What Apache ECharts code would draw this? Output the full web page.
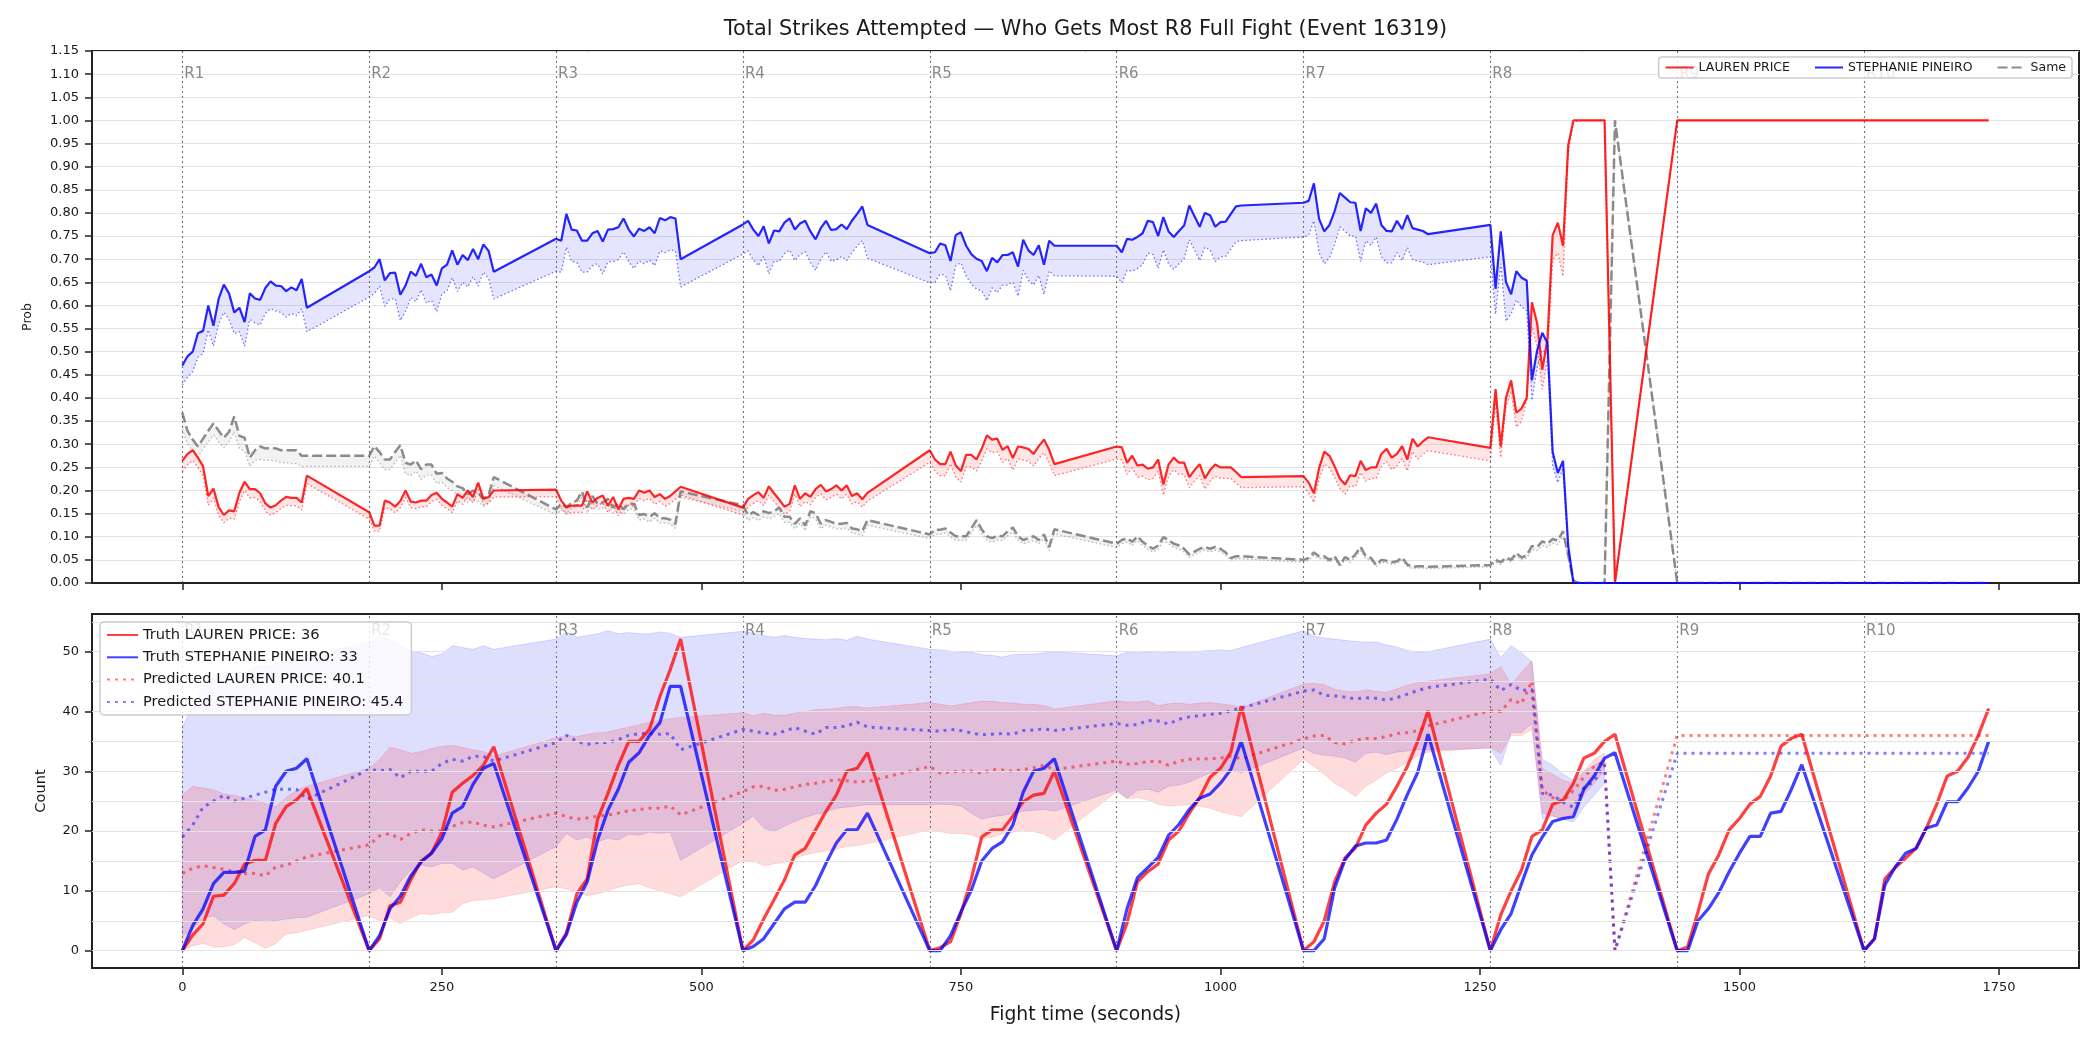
<!DOCTYPE html>
<html>
<head>
<meta charset="utf-8">
<title>Total Strikes Attempted - Who Gets Most R8 Full Fight</title>
<script src="https://cdn.jsdelivr.net/npm/echarts@6.0.0/dist/echarts.min.js"></script>
<style>
  html, body { margin: 0; padding: 0; background: #fff; }
  #chart { width: 2100px; height: 1050px; }
</style>
</head>
<body>
<div id="chart"></div>
<script>
// 图表标题与名称
const TITLE = 'Total Strikes Attempted \u2014 Who Gets Most R8 Full Fight (Event 16319)';
const NAME_LP = 'LAUREN PRICE';
const NAME_SP = 'STEPHANIE PINEIRO';
const NAME_SAME = 'Same';
const LEGEND_BOTTOM = [
  'Truth LAUREN PRICE: 36',
  'Truth STEPHANIE PINEIRO: 33',
  'Predicted LAUREN PRICE: 40.1',
  'Predicted STEPHANIE PINEIRO: 45.4'
];

// 回合
const ROUND_STARTS = [0, 180, 360, 540, 720, 900, 1080, 1260, 1440, 1620];
const ROUND_NAMES = ['R1', 'R2', 'R3', 'R4', 'R5', 'R6', 'R7', 'R8', 'R9', 'R10'];

// 刻度
const X_TICKS = [0, 250, 500, 750, 1000, 1250, 1500, 1750];
const Y2_TICKS = [0, 10, 20, 30, 40, 50];
const Y2_GRID = [0, 5, 10, 15, 20, 25, 30, 35, 40, 45, 50, 55];

// ---- 上图：概率 (每回合 0..120 秒，步长 5 秒) ----
const TOP_STEPS = [0, 5, 10, 15, 20, 25, 30, 35, 40, 45, 50, 55, 60, 65, 70, 75, 80, 85, 90, 95, 100, 105, 110, 115, 120];
const TOP_R8_STEPS = [0, 5, 10, 15, 20, 25, 30, 35, 40, 45, 50, 55, 60, 65, 70, 75, 80];
const TOP_TAIL_T = [1345, 1350, 1355, 1360, 1365, 1370, 1380, 1440, 1500, 1560, 1620, 1680, 1740];
const TOP_TAIL_LP = [1, 1, 1, 1, 1, 1, 0, 1, 1, 1, 1, 1, 1];
const TOP_TAIL_SP = [0, 0, 0, 0, 0, 0, 0, 0, 0, 0, 0, 0, 0];
const TOP_TAIL_SAME = [0, 0, 0, 0, 0, 0, 1, 0, 0, 0, 0, 0, 0];

const TOP_LP = [
  [0.264,0.279,0.287,0.271,0.252,0.188,0.204,0.164,0.147,0.157,0.155,0.195,0.219,0.203,0.203,0.194,0.172,0.163,0.168,0.178,0.186,0.184,0.184,0.174,0.232],
  [0.153,0.124,0.124,0.178,0.174,0.165,0.177,0.2,0.176,0.174,0.178,0.178,0.19,0.195,0.182,0.174,0.165,0.192,0.184,0.2,0.186,0.217,0.182,0.186,0.2],
  [0.202,0.178,0.164,0.167,0.168,0.167,0.198,0.174,0.184,0.189,0.167,0.186,0.159,0.182,0.184,0.182,0.2,0.195,0.2,0.186,0.192,0.182,0.188,0.198,0.208],
  [0.163,0.182,0.19,0.196,0.184,0.209,0.194,0.18,0.165,0.171,0.211,0.182,0.194,0.186,0.203,0.212,0.198,0.203,0.211,0.2,0.211,0.188,0.194,0.181,0.195],
  [0.287,0.267,0.257,0.257,0.284,0.254,0.242,0.277,0.277,0.267,0.29,0.319,0.31,0.312,0.288,0.296,0.27,0.295,0.293,0.29,0.279,0.296,0.31,0.288,0.257],
  [0.295,0.293,0.26,0.275,0.254,0.256,0.247,0.25,0.267,0.213,0.256,0.271,0.26,0.26,0.229,0.244,0.257,0.226,0.244,0.256,0.25,0.25,0.25,0.24,0.229],
  [0.231,0.217,0.194,0.248,0.284,0.275,0.252,0.226,0.213,0.233,0.231,0.264,0.244,0.25,0.25,0.279,0.29,0.271,0.279,0.296,0.267,0.312,0.295,0.306,0.315],
  [0.292,0.419,0.295,0.4,0.438,0.368,0.377,0.4,0.607,0.562,0.461,0.527,0.752,0.779,0.729,0.947,1.0]
];
const TOP_LP_LO = [
  [0.241,0.256,0.265,0.25,0.232,0.168,0.184,0.146,0.13,0.14,0.138,0.176,0.2,0.184,0.185,0.176,0.155,0.147,0.152,0.161,0.168,0.167,0.167,0.158,0.215],
  [0.138,0.112,0.112,0.163,0.16,0.152,0.163,0.185,0.163,0.161,0.165,0.165,0.176,0.181,0.168,0.161,0.152,0.178,0.17,0.186,0.173,0.202,0.169,0.172,0.186],
  [0.186,0.162,0.149,0.152,0.153,0.152,0.181,0.158,0.168,0.173,0.152,0.17,0.145,0.166,0.168,0.166,0.183,0.178,0.183,0.17,0.176,0.166,0.172,0.181,0.19],
  [0.147,0.165,0.172,0.178,0.167,0.19,0.176,0.163,0.149,0.155,0.192,0.165,0.176,0.169,0.185,0.193,0.18,0.185,0.192,0.182,0.192,0.171,0.176,0.164,0.177],
  [0.261,0.242,0.232,0.232,0.258,0.229,0.218,0.251,0.251,0.242,0.263,0.29,0.282,0.284,0.261,0.269,0.244,0.268,0.266,0.263,0.253,0.269,0.282,0.261,0.232],
  [0.268,0.266,0.235,0.249,0.229,0.231,0.223,0.226,0.242,0.19,0.231,0.245,0.235,0.235,0.206,0.22,0.232,0.203,0.22,0.231,0.226,0.226,0.226,0.216,0.206],
  [0.208,0.195,0.174,0.224,0.257,0.249,0.228,0.204,0.192,0.21,0.208,0.239,0.22,0.226,0.226,0.253,0.263,0.245,0.253,0.269,0.242,0.284,0.268,0.278,0.286],
  [0.264,0.39,0.271,0.38,0.415,0.337,0.349,0.395,0.554,0.512,0.419,0.484,0.698,0.713,0.663,0.93,0.995]
];
const TOP_SP = [
  [0.47,0.49,0.5,0.54,0.545,0.6,0.556,0.614,0.645,0.626,0.585,0.595,0.564,0.626,0.615,0.612,0.638,0.652,0.643,0.642,0.631,0.639,0.633,0.657,0.595],
  [0.674,0.682,0.7,0.654,0.67,0.671,0.623,0.643,0.673,0.664,0.69,0.661,0.667,0.643,0.68,0.688,0.719,0.688,0.709,0.698,0.722,0.7,0.732,0.718,0.673],
  [0.744,0.74,0.798,0.764,0.762,0.74,0.74,0.756,0.761,0.738,0.764,0.765,0.769,0.788,0.764,0.749,0.766,0.761,0.769,0.756,0.789,0.784,0.791,0.788,0.7],
  [0.775,0.783,0.764,0.75,0.771,0.734,0.762,0.76,0.779,0.788,0.764,0.777,0.783,0.76,0.743,0.767,0.783,0.763,0.765,0.775,0.765,0.783,0.798,0.814,0.774],
  [0.713,0.715,0.734,0.73,0.696,0.752,0.758,0.729,0.711,0.701,0.696,0.674,0.703,0.693,0.709,0.709,0.715,0.684,0.742,0.719,0.709,0.73,0.688,0.74,0.729],
  [0.729,0.715,0.744,0.742,0.748,0.756,0.783,0.78,0.75,0.791,0.76,0.748,0.761,0.773,0.816,0.793,0.77,0.8,0.795,0.77,0.78,0.781,0.798,0.814,0.816],
  [0.822,0.826,0.864,0.787,0.76,0.774,0.804,0.843,0.833,0.823,0.822,0.761,0.81,0.8,0.82,0.774,0.761,0.76,0.783,0.765,0.795,0.767,0.764,0.761,0.754],
  [0.774,0.636,0.76,0.651,0.624,0.674,0.66,0.654,0.438,0.502,0.541,0.519,0.283,0.238,0.264,0.08,0.0]
];
const TOP_SP_LO = [
  [0.428,0.445,0.457,0.488,0.496,0.547,0.512,0.56,0.585,0.57,0.539,0.543,0.512,0.57,0.562,0.558,0.583,0.593,0.588,0.585,0.575,0.583,0.578,0.593,0.543],
  [0.618,0.626,0.642,0.598,0.614,0.615,0.567,0.587,0.617,0.608,0.634,0.605,0.611,0.587,0.624,0.632,0.66,0.63,0.65,0.64,0.662,0.642,0.672,0.658,0.614],
  [0.674,0.672,0.726,0.695,0.693,0.672,0.672,0.686,0.69,0.668,0.694,0.695,0.699,0.716,0.694,0.68,0.696,0.69,0.698,0.686,0.718,0.714,0.72,0.718,0.64],
  [0.711,0.718,0.698,0.686,0.706,0.668,0.696,0.695,0.712,0.72,0.697,0.71,0.716,0.693,0.676,0.7,0.716,0.695,0.698,0.706,0.697,0.714,0.728,0.74,0.702],
  [0.649,0.65,0.668,0.665,0.632,0.686,0.692,0.664,0.646,0.636,0.632,0.61,0.638,0.628,0.644,0.644,0.65,0.62,0.676,0.654,0.644,0.665,0.624,0.675,0.664],
  [0.663,0.649,0.676,0.674,0.68,0.688,0.713,0.71,0.68,0.72,0.69,0.678,0.69,0.701,0.742,0.72,0.697,0.726,0.72,0.695,0.705,0.706,0.722,0.738,0.74],
  [0.748,0.752,0.783,0.714,0.69,0.703,0.732,0.77,0.76,0.75,0.75,0.695,0.74,0.73,0.748,0.705,0.692,0.692,0.714,0.697,0.725,0.699,0.696,0.694,0.688],
  [0.705,0.581,0.69,0.566,0.582,0.612,0.597,0.589,0.395,0.465,0.504,0.496,0.252,0.217,0.248,0.07,0.0]
];
const TOP_SAME = [
  [0.368,0.329,0.31,0.295,0.312,0.329,0.345,0.329,0.314,0.327,0.36,0.318,0.314,0.271,0.287,0.295,0.291,0.292,0.291,0.287,0.287,0.287,0.287,0.275,0.275],
  [0.275,0.296,0.283,0.267,0.267,0.283,0.298,0.26,0.256,0.265,0.246,0.256,0.256,0.236,0.238,0.226,0.219,0.209,0.205,0.192,0.2,0.194,0.182,0.19,0.229],
  [0.159,0.171,0.163,0.174,0.178,0.198,0.163,0.188,0.171,0.174,0.182,0.163,0.171,0.159,0.172,0.171,0.147,0.149,0.143,0.151,0.14,0.14,0.137,0.128,0.198],
  [0.168,0.147,0.153,0.147,0.155,0.151,0.155,0.163,0.143,0.143,0.128,0.14,0.124,0.155,0.151,0.128,0.136,0.132,0.128,0.128,0.13,0.118,0.116,0.112,0.136],
  [0.105,0.115,0.115,0.118,0.109,0.101,0.101,0.101,0.118,0.136,0.116,0.101,0.097,0.102,0.101,0.112,0.12,0.101,0.093,0.097,0.101,0.093,0.105,0.078,0.116],
  [0.085,0.093,0.097,0.089,0.101,0.089,0.081,0.074,0.081,0.099,0.093,0.085,0.081,0.074,0.062,0.068,0.074,0.078,0.074,0.078,0.074,0.066,0.054,0.058,0.058],
  [0.05,0.054,0.066,0.058,0.058,0.05,0.058,0.039,0.056,0.05,0.062,0.078,0.058,0.054,0.039,0.05,0.048,0.045,0.047,0.055,0.04,0.035,0.036,0.036,0.035],
  [0.039,0.05,0.045,0.055,0.05,0.065,0.055,0.06,0.08,0.078,0.09,0.085,0.095,0.092,0.112,0.06,0.005]
];
const TOP_SAME_LO = [
  [0.333,0.3,0.285,0.272,0.29,0.305,0.32,0.305,0.292,0.305,0.327,0.29,0.285,0.252,0.265,0.267,0.265,0.265,0.264,0.26,0.26,0.258,0.258,0.252,0.252],
  [0.252,0.275,0.26,0.245,0.245,0.26,0.276,0.236,0.232,0.242,0.224,0.233,0.233,0.215,0.218,0.206,0.199,0.19,0.186,0.174,0.182,0.176,0.166,0.173,0.21],
  [0.148,0.158,0.15,0.162,0.166,0.185,0.151,0.175,0.159,0.162,0.17,0.151,0.159,0.148,0.16,0.159,0.136,0.138,0.132,0.14,0.13,0.13,0.127,0.118,0.185],
  [0.155,0.135,0.141,0.135,0.143,0.139,0.143,0.15,0.131,0.131,0.117,0.129,0.113,0.143,0.139,0.117,0.125,0.121,0.117,0.117,0.119,0.108,0.106,0.102,0.125],
  [0.096,0.105,0.105,0.108,0.1,0.092,0.092,0.092,0.108,0.125,0.106,0.092,0.088,0.093,0.092,0.102,0.11,0.092,0.085,0.088,0.092,0.085,0.096,0.07,0.106],
  [0.077,0.085,0.089,0.081,0.092,0.081,0.073,0.067,0.073,0.09,0.085,0.077,0.073,0.067,0.056,0.061,0.067,0.071,0.067,0.071,0.067,0.06,0.049,0.052,0.052],
  [0.045,0.049,0.06,0.052,0.052,0.045,0.052,0.035,0.05,0.045,0.056,0.07,0.052,0.049,0.035,0.045,0.043,0.04,0.042,0.049,0.036,0.031,0.032,0.032,0.031],
  [0.035,0.045,0.04,0.05,0.045,0.058,0.05,0.054,0.072,0.07,0.081,0.077,0.086,0.083,0.1,0.054,0.004]
];

// ---- 下图：计数 (每回合 0..120 秒，步长 10 秒) ----
const BOT_STEPS = [0, 10, 20, 30, 40, 50, 60, 70, 80, 90, 100, 110, 120];
const TRUTH_LP = [
  [0,2.6,4.5,9.1,9.3,11.2,14.5,15.1,15.1,21.3,24.1,25.2,27.1],
  [0,2,7.5,8.1,11.8,15,16.3,19.8,26.5,28,29.3,31,34.1],
  [0,3,9.5,12,22,26.3,31,35,35,37,42.5,47,52.1],
  [0,1.8,5.3,8.5,11.8,16,17.1,20.2,23.3,26,30,30.5,33.1],
  [0,0.5,1.5,6.2,12,19,20.2,20.2,22.5,24.9,26,26.3,30],
  [0,4.6,11.5,13.2,14.5,18.5,20,23,25.6,29,30.5,33.2,40.9],
  [0,1.5,5,11.5,15.5,17.2,21,23,24.5,27.5,30.8,35,40.1],
  [0,6,10,13.5,19.1,20.2,24.5,25.1,28,32.2,33,35,36.2],
  [0,0.6,6.5,12.8,16,20.2,22.1,24.5,25.8,29.2,34.2,35.5,36.2],
  [0,2,12,13.9,15.5,17.1,20.5,24.5,29.2,30,32.3,36,40.5]
];
const TRUTH_SP = [
  [0,4.2,7,11.2,13.1,13.1,13.3,19.1,20.2,27.5,30,30.5,32.1],
  [0,2.5,7,9.1,12.5,14.8,16.3,18.7,23,24.1,27.8,30.5,31.3],
  [0,2.7,8.1,11.5,18.5,23.5,27,31.5,33.1,36,38.1,44.2,44.2],
  [0,0.7,2,4.5,7,8.1,8.1,10.9,14.6,18,20.2,20.2,23],
  [0,0,2.5,6.5,10.1,15,17.1,18.2,21,26.5,30,30.5,32.1],
  [0,7,12.2,13.9,15.6,19.3,21.1,23.6,25.5,26.2,28,30.3,35],
  [0,0,2,10.5,15.2,17.5,18,18,18.5,22,26.1,29.8,36.2],
  [0,3.5,6.2,11.2,16,19,21.6,22.1,22.4,27,29.2,32.2,33.1],
  [0,0,5,7,9.7,13.2,16.3,19.1,19.1,23,23.3,27,31.1],
  [0,2,11,14,16.3,17.1,20.5,21,24.9,24.9,27.2,30,35]
];
const PRED_LP = [
  [12.9,13.8,14.2,13.9,13.6,13.2,12.9,12.9,12.5,14,14.3,15,15.7],
  [17.7,19.2,19.6,18.6,19.6,20.2,20,20,20.8,21.4,21.5,21,20.7],
  [23,22.4,22,22.2,22.5,22.7,23,23.4,23.6,23.8,23.8,24.2,22.7],
  [26.6,27.4,27.5,26.8,27,27.4,27.8,28,28.3,28.6,28.4,28.2,28.3],
  [30.8,29.7,29.9,30,30,29.7,30.3,30.2,30,30.3,30.6,31,30.3],
  [31.7,31.2,31.3,31.6,31.7,31,31.7,32,32.1,32.1,32.2,32.5,32.1],
  [35.4,35.9,36,34.8,34.6,35.2,35.5,35.5,35.8,36.3,36.5,36.8,37.6],
  [40.1,40,42,41.3,45.1,26.8,25.6,25,26.8,29,30.8,31.6,0],
  [36,36,36,36,36,36,36,36,36,36,36,36,36],
  [36,36,36,36,36,36,36,36,36,36,36,36,36]
];
const PRED_SP = [
  [19,21,24,25,26,25,25.5,26,26.5,27,27,27,25.3],
  [30.3,30.1,30.3,28.9,30,30,30,31.3,32,31.7,32.5,32.5,31.7],
  [34.8,36,35,34.5,34.8,34.8,35.3,36,36.3,36.3,36.2,36.3,33.6],
  [37,36.7,36.4,36.2,36.7,37.3,36.7,36.2,37.3,37.3,37.6,38.2,37.4],
  [36.8,36.7,37,36.8,36.4,36.1,36.2,36.3,36.2,36.8,36.9,37.1,36.8],
  [38,37.7,37.8,38.5,38.4,37.9,38.7,39.1,39.3,39.5,39.7,40.1,40.6],
  [43.4,43.6,42.7,42.6,42.4,42.1,42.3,42.2,41.9,42.3,42.9,43.5,44],
  [45.4,43.5,44.5,43.5,43.7,26.3,26,24.8,24,27.2,28.3,31,0],
  [33,33,33,33,33,33,33,33,33,33,33,33,33],
  [33,33,33,33,33,33,33,33,33,33,33,33,33]
];
// 预测区间 (仅 R1..R8)
const BAND_SP_HI = [
  [37.3,41,44,45.5,46,46.5,46.5,47.5,47.5,48,48.5,49,49.3],
  [51.5,52.5,52,51,50.2,49.8,49.2,49.6,51,50.7,50.4,51,50.4],
  [52.1,53.3,52.4,52.7,53,53.5,53,53.2,53,53,53.3,53.1,52.4],
  [53.4,53.1,52.7,52.4,52.7,52.4,52.2,52.1,52,52.2,51.9,52.6,52.1],
  [50.4,50.3,50.1,49.9,49.9,49.5,49.4,49.1,49.5,49.6,49.6,49.8,50],
  [49.3,49.9,49.8,49.9,50.1,49.9,50,50,50.1,50.2,50.3,50.2,50.7],
  [53.5,52.6,52.3,52.1,51.9,51.7,51.6,51.6,51.1,50.8,50.2,49.9,50],
  [52.1,49,51,49.8,48.3,32,31,29.5,28.5,30,31,32,null]
];
const BAND_SP_LO = [
  [2.5,3.5,5.5,5.8,4.5,3.5,4.5,5,4.8,5,5.3,5.5,5.6],
  [9.5,10.5,9,11.5,13.5,14.3,14,14.6,14.6,13.5,14,13,12],
  [17.4,19.6,18.5,19,18.2,18.8,18.5,19.5,19.3,19.8,19.6,19.8,15.1],
  [21.3,22.5,20.5,19.9,20.8,21.6,22.3,22.8,23.2,23.8,24,24.2,24.4],
  [24.4,24.5,24.4,24.2,23,22,22.4,22.6,23,23.3,23.5,23.6,23.3],
  [26.9,25.5,26.8,27,26.5,27.5,27.7,28.2,29,29.7,30,30.3,29.7],
  [33.9,33,32.7,32.5,32.2,31.5,33,33.2,32.8,33.2,33.4,33.6,33.6],
  [33.8,31,36.5,36.5,38,22,22.5,22,21.5,24,26,28,null]
];
const BAND_LP_HI = [
  [26,27.5,27.2,26.9,26.2,26,25.5,25.2,24.6,24.1,25.6,26.8,27.5],
  [30.5,32,34,33.6,33,33.3,33.8,34.2,34.3,34,33.6,33.3,32.5],
  [35.6,36,35.8,36.2,36.4,36.6,37,37.4,37.8,38.2,38.5,38.8,39],
  [39.8,39.3,39.7,39.4,39.4,39.7,40,40.3,40.4,40.5,40.8,40.8,40.6],
  [41.5,41.2,40.9,41.2,41.5,41.7,41.7,41.5,41.4,41.2,41.2,41,40.4],
  [41.8,41.6,41.6,41.8,41,41.3,41.4,41.2,41.4,41.5,41.3,41.1,40.6],
  [44.6,44.7,44.5,43.7,43.4,43.3,43.6,43.4,43.2,43.8,44.4,44.8,45.1],
  [46.3,47.5,44.5,46.5,48.5,30.5,29.5,28.5,28,30,32,33,null]
];
const BAND_LP_LO = [
  [0,0.8,1.2,0.6,0.6,1,2.2,1.3,0.4,1.2,2.8,3,3.4],
  [5.9,5,5.5,4.5,5.5,6.2,6,6.4,6.4,7.8,8.4,8.5,8.7],
  [10.7,10.3,9.8,9.2,9.5,10,10.6,11,11.2,10.5,10,9.5,9],
  [15.1,15,14.2,14.5,14.8,15.5,16,16.4,16.7,17,17.4,17.6,17.9],
  [20.2,19.9,19.6,19.6,19.4,18.7,19,19.5,19.8,20.2,19.9,19.5,18.5],
  [26.6,25.4,25.6,25.2,24.5,24.2,24.3,24.4,24.2,23.8,23.2,22.8,22.4],
  [32,30.8,29.5,28,27,25.8,27.5,28.5,29.7,30.5,31.5,32.5,33.2],
  [34,33,36,36,37,23,22.5,22,23,26,28,30,null]
];

// 颜色
const COLORS = {
  red: 'rgba(255,0,0,0.85)',
  blue: 'rgba(0,0,255,0.85)',
  gray: 'rgba(120,120,120,0.85)',
  redDot: 'rgba(255,0,0,0.55)',
  blueDot: 'rgba(0,0,255,0.55)',
  grayDot: 'rgba(120,120,120,0.5)',
  truthRed: 'rgba(255,0,0,0.75)',
  truthBlue: 'rgba(0,0,255,0.75)',
  predRed: 'rgba(255,0,0,0.5)',
  predBlue: 'rgba(0,0,255,0.5)',
  text: '#1a1a1a',
  axis: '#222',
  grid: '#e4e4e4'
};
const FONT = 'DejaVu Sans';

// 展开回合数据
function flatten(rounds) {
  const out = [];
  rounds.forEach(r => r.forEach(v => out.push(v)));
  return out;
}

// 上图时间轴
const TOP_T = [];
ROUND_STARTS.slice(0, 7).forEach(s => TOP_STEPS.forEach(o => TOP_T.push(s + o)));
TOP_R8_STEPS.forEach(o => TOP_T.push(ROUND_STARTS[7] + o));
const TOP_T_ALL = TOP_T.concat(TOP_TAIL_T);
const TAIL_NULL = TOP_TAIL_T.map(() => null);

// 下图时间轴
const BOT_T = [];
ROUND_STARTS.forEach(s => BOT_STEPS.forEach(o => BOT_T.push(s + o)));
const BAND_PAD = BOT_T.slice(BAND_SP_HI.length * BOT_STEPS.length).map(() => null);

function pairs(ts, vs) {
  return ts.map((t, i) => [t, vs[i]]);
}

function lineSeries(name, gi, ts, vs, color, width, dash, z) {
  return {
    name, type: 'line', xAxisIndex: gi, yAxisIndex: gi,
    data: pairs(ts, vs),
    symbol: 'none', showSymbol: false,
    lineStyle: { color, width, type: dash || 'solid', cap: 'butt' },
    itemStyle: { color },
    z, silent: true, animation: false
  };
}

// 区间填充：用 custom series 画一个多边形
function bandSeries(name, gi, ts, lo, hi, fill, stroke) {
  return {
    name, type: 'custom', xAxisIndex: gi, yAxisIndex: gi, z: 1, silent: true,
    data: ts.map((t, i) => [t, lo[i], hi[i]]),
    encode: { x: 0, y: [1, 2] },
    renderItem(params, api) {
      if (params.dataIndex !== 0) return null;
      const children = [];
      let run = [];
      const flush = () => {
        if (run.length > 1) {
          const top = run.map(i => api.coord([ts[i], hi[i]]));
          const bot = run.map(i => api.coord([ts[i], lo[i]])).reverse();
          children.push({
            type: 'polygon',
            shape: { points: top.concat(bot) },
            style: { fill, stroke: stroke || null, lineWidth: stroke ? 1 : 0 }
          });
        }
        run = [];
      };
      ts.forEach((t, i) => {
        if (lo[i] == null || hi[i] == null) flush();
        else run.push(i);
      });
      flush();
      return { type: 'group', children };
    }
  };
}

// 回合竖线 + 网格线 承载
function guideSeries(gi, hLines) {
  const data = ROUND_STARTS.map(x => ({ xAxis: x, lineStyle: { color: 'rgba(60,60,60,0.7)', width: 1.1, type: [2, 3] } }));
  (hLines || []).forEach(y => data.push({ yAxis: y, lineStyle: { color: COLORS.grid, width: 1, type: 'solid' } }));
  return {
    name: 'guide' + gi, type: 'scatter', xAxisIndex: gi, yAxisIndex: gi, z: 0,
    data: [], symbolSize: 0, silent: true,
    markLine: { silent: true, symbol: ['none', 'none'], label: { show: false }, animation: false, data }
  };
}

function roundLabels(gi, y) {
  return {
    name: 'rlabel' + gi, type: 'scatter', xAxisIndex: gi, yAxisIndex: gi, z: 4, silent: true,
    symbolSize: 0,
    data: ROUND_STARTS.map((x, i) => ({ value: [x, y], name: ROUND_NAMES[i] })),
    label: {
      show: true, position: 'right', distance: 2, formatter: '{b}',
      color: '#6b6b6b', fontSize: 15, fontFamily: FONT
    }
  };
}

function xAxis(gi, showLabels) {
  return {
    type: 'value', gridIndex: gi, min: -87, max: 1827,
    axisLine: { show: true, onZero: false, lineStyle: { color: COLORS.axis, width: 2 } },
    axisTick: { show: true, length: 7, customValues: X_TICKS, lineStyle: { color: COLORS.axis, width: 1.5 } },
    axisLabel: {
      show: showLabels, customValues: X_TICKS, margin: 13, fontSize: 13,
      color: COLORS.text, fontFamily: FONT, formatter: v => String(v)
    },
    splitLine: { show: false }
  };
}

// ---- 组装 ----
const topLP = flatten(TOP_LP), topSP = flatten(TOP_SP), topSame = flatten(TOP_SAME);
const topLPLo = flatten(TOP_LP_LO), topSPLo = flatten(TOP_SP_LO), topSameLo = flatten(TOP_SAME_LO);

const series = [
  guideSeries(0),
  guideSeries(1, Y2_GRID),
  // 上图区间
  bandSeries('bandSame', 0, TOP_T_ALL, topSameLo.concat(TAIL_NULL), topSame.concat(TAIL_NULL), 'rgba(128,128,128,0.1)'),
  bandSeries('bandLP', 0, TOP_T_ALL, topLPLo.concat(TAIL_NULL), topLP.concat(TAIL_NULL), 'rgba(255,0,0,0.1)'),
  bandSeries('bandSP', 0, TOP_T_ALL, topSPLo.concat(TAIL_NULL), topSP.concat(TAIL_NULL), 'rgba(0,0,255,0.1)'),
  // 上图下沿点线
  lineSeries('loSame', 0, TOP_T_ALL, topSameLo.concat(TOP_TAIL_SAME), COLORS.grayDot, 1.3, [1.5, 2.5], 2),
  lineSeries('loLP', 0, TOP_T_ALL, topLPLo.concat(TOP_TAIL_LP), COLORS.redDot, 1.3, [1.5, 2.5], 2),
  lineSeries('loSP', 0, TOP_T_ALL, topSPLo.concat(TOP_TAIL_SP), COLORS.blueDot, 1.3, [1.5, 2.5], 2),
  // 上图主线
  lineSeries(NAME_SAME, 0, TOP_T_ALL, topSame.concat(TOP_TAIL_SAME), COLORS.gray, 2.5, [10, 4], 3),
  lineSeries(NAME_LP, 0, TOP_T_ALL, topLP.concat(TOP_TAIL_LP), COLORS.red, 2.2, null, 3),
  lineSeries(NAME_SP, 0, TOP_T_ALL, topSP.concat(TOP_TAIL_SP), COLORS.blue, 2.2, null, 3),
  roundLabels(0, 1.10),
  // 下图区间
  bandSeries('bandSPb', 1, BOT_T, flatten(BAND_SP_LO).concat(BAND_PAD), flatten(BAND_SP_HI).concat(BAND_PAD), 'rgba(0,0,255,0.13)', 'rgba(0,0,255,0.12)'),
  bandSeries('bandLPb', 1, BOT_T, flatten(BAND_LP_LO).concat(BAND_PAD), flatten(BAND_LP_HI).concat(BAND_PAD), 'rgba(255,0,0,0.14)', 'rgba(255,0,0,0.12)'),
  // 下图预测点线
  lineSeries(LEGEND_BOTTOM[2], 1, BOT_T, flatten(PRED_LP), COLORS.predRed, 3, [3, 5], 2),
  lineSeries(LEGEND_BOTTOM[3], 1, BOT_T, flatten(PRED_SP), COLORS.predBlue, 3, [3, 5], 2),
  // 下图真实值
  lineSeries(LEGEND_BOTTOM[0], 1, BOT_T, flatten(TRUTH_LP), COLORS.truthRed, 3.2, null, 3),
  lineSeries(LEGEND_BOTTOM[1], 1, BOT_T, flatten(TRUTH_SP), COLORS.truthBlue, 3.2, null, 3),
  roundLabels(1, 53.5)
];

const option = {
  animation: false,
  backgroundColor: '#ffffff',
  textStyle: { fontFamily: FONT },
  grid: [
    { left: 92, top: 51, width: 1987, height: 532, show: true, borderColor: COLORS.axis, borderWidth: 2, backgroundColor: 'transparent' },
    { left: 92, top: 614, width: 1987, height: 354, show: true, borderColor: COLORS.axis, borderWidth: 2, backgroundColor: 'transparent' }
  ],
  xAxis: [xAxis(0, false), xAxis(1, true)],
  yAxis: [
    {
      type: 'value', gridIndex: 0, min: 0, max: 1.15, interval: 0.05,
      axisLine: { show: true, onZero: false, lineStyle: { color: COLORS.axis, width: 2 } },
      axisTick: { show: true, length: 7, lineStyle: { color: COLORS.axis, width: 1.5 } },
      axisLabel: { margin: 13, fontSize: 13, color: COLORS.text, fontFamily: FONT, formatter: v => v.toFixed(2) },
      splitLine: { show: true, lineStyle: { color: COLORS.grid, width: 1 } }
    },
    {
      type: 'value', gridIndex: 1, min: -2.9, max: 56.3,
      axisLine: { show: true, onZero: false, lineStyle: { color: COLORS.axis, width: 2 } },
      axisTick: { show: true, length: 7, customValues: Y2_TICKS, lineStyle: { color: COLORS.axis, width: 1.5 } },
      axisLabel: { customValues: Y2_TICKS, margin: 13, fontSize: 13, color: COLORS.text, fontFamily: FONT },
      splitLine: { show: false }
    }
  ],
  legend: [
    {
      data: [NAME_LP, NAME_SP, NAME_SAME],
      orient: 'horizontal', right: 28, top: 57,
      itemWidth: 28, itemHeight: 10, itemGap: 24,
      padding: [4, 6, 4, 6],
      itemStyle: { opacity: 0 },
      backgroundColor: 'rgba(255,255,255,0.8)', borderColor: '#cccccc', borderWidth: 1.5, borderRadius: 3,
      textStyle: { fontSize: 12.5, color: COLORS.text, fontFamily: FONT },
      selectedMode: false, z: 10
    },
    {
      data: LEGEND_BOTTOM,
      orient: 'vertical', left: 100, top: 622,
      itemWidth: 31, itemHeight: 14, itemGap: 6.3,
      padding: [5, 8, 5, 6],
      itemStyle: { opacity: 0 },
      backgroundColor: 'rgba(255,255,255,0.8)', borderColor: '#cccccc', borderWidth: 1.5, borderRadius: 4,
      textStyle: { fontSize: 14.6, lineHeight: 16, color: COLORS.text, fontFamily: FONT },
      selectedMode: false, z: 10
    }
  ],
  graphic: [
    { type: 'text', x: 1085.5, y: 29.5, silent: true,
      style: { text: TITLE, fontSize: 20.8, fontFamily: FONT, fill: COLORS.text, align: 'center', verticalAlign: 'middle' } },
    { type: 'text', x: 1085.5, y: 1015, silent: true,
      style: { text: 'Fight time (seconds)', fontSize: 18.75, fontFamily: FONT, fill: COLORS.text, align: 'center', verticalAlign: 'middle' } },
    { type: 'text', x: 28, y: 317, rotation: Math.PI / 2, silent: true,
      style: { text: 'Prob', fontSize: 12.5, fontFamily: FONT, fill: COLORS.text, align: 'center', verticalAlign: 'middle' } },
    { type: 'text', x: 41, y: 791, rotation: Math.PI / 2, silent: true,
      style: { text: 'Count', fontSize: 14.6, fontFamily: FONT, fill: COLORS.text, align: 'center', verticalAlign: 'middle' } }
  ],
  series
};

const chart = echarts.init(document.getElementById('chart'));
chart.setOption(option);
window.addEventListener('resize', () => chart.resize());
</script>
</body>
</html>
